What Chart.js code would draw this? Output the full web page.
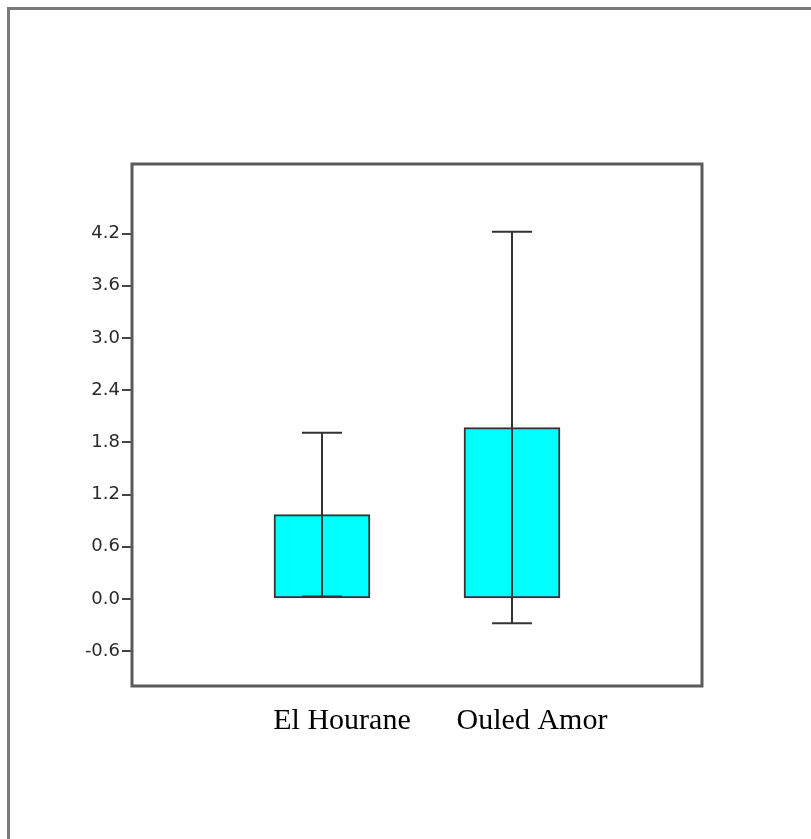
<!DOCTYPE html>
<html>
<head>
<meta charset="utf-8">
<script src="https://cdn.jsdelivr.net/npm/chart.js@4.4.1/dist/chart.umd.min.js"></script>
<style>
  html, body { margin: 0; padding: 0; background: #fff; overflow: hidden; }
  #wrap { position: relative; width: 811px; height: 839px; }
  #frame { position: absolute; left: 7px; top: 7px; width: 900px; height: 900px;
           border-left: 3px solid #7a7a7a; border-top: 3px solid #7a7a7a; box-sizing: border-box; }
  #c { position: absolute; left: 0; top: 0; }
</style>
</head>
<body>
<div id="wrap">
  <div id="frame"></div>
  <canvas id="c" width="811" height="839"></canvas>
</div>
<script>
// Sites and their mean values with the half-width of each error bar
const categories = ['El Hourane', 'Ouled Amor'];
const means = [0.97, 1.97];
const errors = [0.94, 2.25];
const yTicks = [-0.6, 0.0, 0.6, 1.2, 1.8, 2.4, 3.0, 3.6, 4.2];

// Blank slots on either side keep the two bars at thirds of the plot width
const labels = [''].concat(categories, ['']);
const values = [null].concat(means, [null]);
const errs = [null].concat(errors, [null]);

const frameColor = '#5a5a5a';

const plotFrame = {
  id: 'plotFrame',
  afterDraw(chart) {
    const { ctx, chartArea: a } = chart;
    ctx.save();
    ctx.strokeStyle = frameColor;
    ctx.lineWidth = 3;
    ctx.strokeRect(a.left, a.top, a.right - a.left, a.bottom - a.top);
    ctx.restore();
  }
};

const errorBars = {
  id: 'errorBars',
  afterDatasetsDraw(chart) {
    const { ctx } = chart;
    const meta = chart.getDatasetMeta(0);
    const ys = chart.scales.y;
    ctx.save();
    ctx.strokeStyle = '#333333';
    ctx.lineWidth = 2;
    meta.data.forEach((bar, i) => {
      if (values[i] == null) return;
      const x = bar.x;
      const yHi = ys.getPixelForValue(values[i] + errs[i]);
      const yLo = ys.getPixelForValue(values[i] - errs[i]);
      const cap = 20;
      ctx.beginPath();
      ctx.moveTo(x, yHi); ctx.lineTo(x, yLo);
      ctx.moveTo(x - cap, yHi); ctx.lineTo(x + cap, yHi);
      ctx.moveTo(x - cap, yLo); ctx.lineTo(x + cap, yLo);
      ctx.stroke();
    });
    ctx.restore();
  }
};

new Chart(document.getElementById('c'), {
  type: 'bar',
  data: {
    labels: labels,
    datasets: [{
      data: values,
      backgroundColor: '#00FFFF',
      borderColor: '#333333',
      borderWidth: 2,
      borderSkipped: false,
      barThickness: 96
    }]
  },
  options: {
    responsive: false,
    animation: false,
    devicePixelRatio: 1,
    layout: { padding: { left: 0, top: 164, right: 109, bottom: 0 } },
    plugins: { legend: { display: false }, tooltip: { enabled: false } },
    scales: {
      x: {
        offset: false,
        grid: { display: false, drawTicks: false },
        border: { display: false },
        ticks: {
          autoSkip: false,
          maxRotation: 0,
          padding: 17,
          labelOffset: 20,
          color: '#000000',
          font: { family: '"Liberation Serif", "Times New Roman", serif', size: 30 }
        },
        afterFit(scale) { scale.height = 153; }
      },
      y: {
        min: -1.0,
        max: 5.0,
        grid: { drawOnChartArea: false, drawTicks: true, tickLength: 10, color: '#444444', lineWidth: 2 },
        border: { display: false },
        afterBuildTicks(scale) { scale.ticks = yTicks.map(v => ({ value: v })); },
        ticks: {
          padding: 2,
          color: '#2a2a2a',
          font: { family: '"DejaVu Sans", Tahoma, sans-serif', size: 18 },
          callback: v => Number(v).toFixed(1)
        },
        afterFit(scale) { scale.width = 132; }
      }
    }
  },
  plugins: [plotFrame, errorBars]
});
</script>
</body>
</html>
